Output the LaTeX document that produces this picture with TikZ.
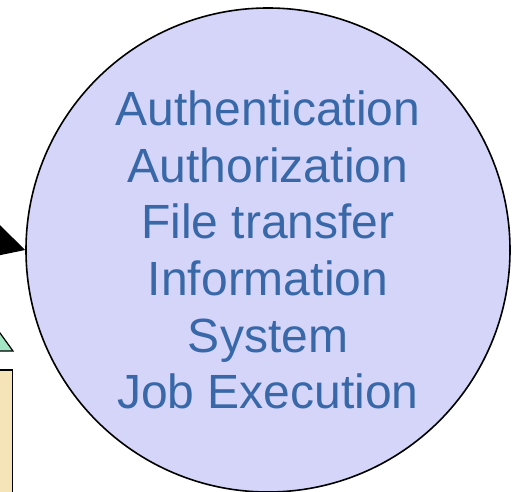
\documentclass[tikz,border=0pt]{standalone}
\usepackage{fontspec}
\setmainfont{Liberation Sans}
\usetikzlibrary{arrows.meta}
\definecolor{lavender}{RGB}{213,213,250}
\definecolor{svcblue}{RGB}{56,104,168}
\definecolor{mint}{RGB}{163,230,196}
\definecolor{sand}{RGB}{245,228,183}
\tikzset{
  svcbubble/.style={circle, draw=black, line width=1.6pt, fill=lavender,
    minimum size=484pt, inner sep=0pt, align=center, text=svcblue,
    font=\fontsize{48}{56.7}\selectfont},
  edgeshape/.style={draw=black, line width=1.2pt},
  feed/.style={line width=1.6pt, -{Triangle[length=36pt,width=38pt]}}
}
\begin{document}
\begin{tikzpicture}[x=1pt,y=1pt]
  \useasboundingbox (0,0) rectangle (514,491);
  \clip (0,0) rectangle (514,491);
  % services bubble
  \node[svcbubble] (svc) at (268,241)
    {Authentication\\Authorization\\File transfer\\Information\\System\\Job Execution};
  % incoming connector from the left
  \coordinate (src) at (-110,281);
  \draw[feed] (src) -- (svc.west);
  % neighbouring shapes at the left edge
  \draw[edgeshape, fill=mint] (13,140) -- (-10,171.8) -- (-30,140) -- cycle;
  \draw[edgeshape, fill=sand] (-10,-10) rectangle (12.5,121);
\end{tikzpicture}
\end{document}
